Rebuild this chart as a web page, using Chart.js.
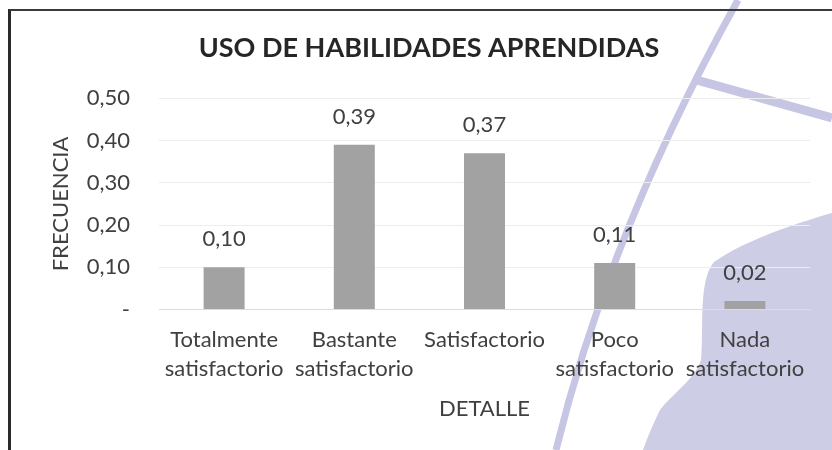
<!DOCTYPE html>
<html>
<head>
<meta charset="utf-8">
<script src="https://cdn.jsdelivr.net/npm/chart.js@4.4.1/dist/chart.umd.min.js"></script>
<style>
html, body { margin: 0; padding: 0; background: #fff; }
#wrap { position: relative; width: 832px; height: 450px; overflow: hidden; }
#bg, #frame, #wrap canvas { position: absolute; left: 0; top: 0; }
#frame { left: 8px; top: 9px; width: 840px; height: 460px; border-top: 2px solid #3a3a3a; border-left: 3px solid #2a2a2a; }
</style>
</head>
<body>
<div id="wrap">
  <svg id="bg" width="832" height="450">
    <path d="M832,213 C800,222 745,240 714,262 C698,280 704,330 701,360 C696,378 672,394 660,410 C651,428 646,442 643,450 L832,450 Z" fill="#cdcde5"/>
    <path d="M738,0 Q610,230 556,450" stroke="#c6c6e4" stroke-width="7" fill="none"/>
    <path d="M693,79 L832,118" stroke="#c6c6e4" stroke-width="9"/>
  </svg>
  <div id="frame"></div>
  <canvas id="grafico" width="832" height="450"></canvas>
</div>
<script>
var categorias = [
    ['Totalmente', 'satisfactorio'],
    ['Bastante', 'satisfactorio'],
    'Satisfactorio',
    ['Poco', 'satisfactorio'],
    ['Nada', 'satisfactorio']
];
var frecuencias = [0.10, 0.39, 0.37, 0.11, 0.02];
var marcasY = [0, 0.1, 0.2, 0.3, 0.4, 0.5];

var titulo = 'USO DE HABILIDADES APRENDIDAS';
var tituloY = 'FRECUENCIA';
var tituloX = 'DETALLE';

function coma(v) {
    if (v === 0) return '-';
    return v.toFixed(2).replace('.', ',');
}

// etiquetas de valor encima de cada barra
var etiquetasValor = {
    id: 'etiquetasValor',
    afterDatasetsDraw: function (chart) {
        var ctx = chart.ctx;
        var meta = chart.getDatasetMeta(0);
        ctx.save();
        ctx.font = '22px Lato';
        ctx.fillStyle = '#404040';
        ctx.textAlign = 'center';
        ctx.textBaseline = 'bottom';
        meta.data.forEach(function (bar, i) {
            ctx.fillText(coma(frecuencias[i]), bar.x, bar.y - 17);
        });
        ctx.restore();
    }
};

Chart.defaults.font.family = 'Lato';
Chart.defaults.color = '#404040';

var ctx = document.getElementById('grafico');
var grafico = new Chart(ctx, {
    type: 'bar',
    data: {
        labels: categorias,
        datasets: [{
            data: frecuencias,
            backgroundColor: '#a2a2a2',
            barPercentage: 0.315,
            categoryPercentage: 1
        }]
    },
    options: {
        responsive: false,
        animation: false,
        layout: { padding: { left: 48, right: 22, top: 32, bottom: 24 } },
        plugins: {
            legend: { display: false },
            tooltip: { enabled: false },
            title: {
                display: true,
                text: titulo,
                color: '#262626',
                font: { size: 27, weight: 'bold' },
                padding: { top: 0, bottom: 34 }
            }
        },
        scales: {
            x: {
                grid: { display: false, drawTicks: false },
                border: { color: '#dcdcdc' },
                ticks: { font: { size: 22, lineHeight: 1.32 }, padding: 16, maxRotation: 0 },
                title: { display: true, text: tituloX, font: { size: 22 }, padding: { top: -4, bottom: 4 } }
            },
            y: {
                min: 0,
                max: 0.5,
                afterBuildTicks: function (axis) {
                    axis.ticks = marcasY.map(function (v) { return { value: v }; });
                },
                afterFit: function (axis) {
                    axis.width = 111;
                },
                grid: { color: '#ededed', drawTicks: false },
                border: { display: false },
                ticks: { font: { size: 22 }, padding: 29, callback: function (v) { return coma(v); } },
                title: { display: true, text: tituloY, font: { size: 22 }, padding: 0 }
            }
        }
    },
    plugins: [etiquetasValor]
});
</script>
</body>
</html>
